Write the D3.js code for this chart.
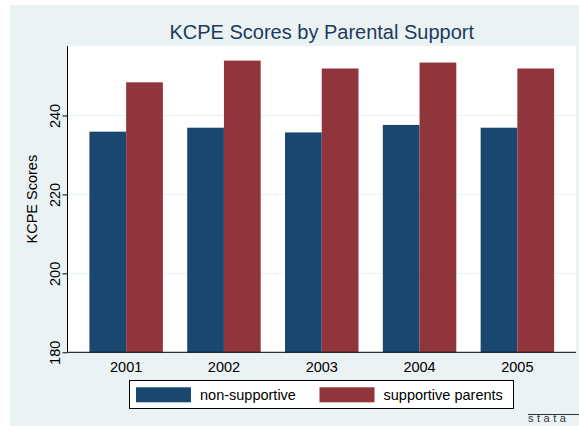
<!DOCTYPE html>
<html>
<head>
<meta charset="utf-8">
<script src="https://cdn.jsdelivr.net/npm/d3@7"></script>
<style>
  body { margin: 0; background: #fff; }
  text { font-family: "Liberation Sans", Arial, Helvetica, sans-serif; }
</style>
</head>
<body>
<div id="chart"></div>
<script>
const years = ["2001", "2002", "2003", "2004", "2005"];
const nonSupportive = [235.9, 236.9, 235.7, 237.6, 236.9];
const supportive = [248.4, 253.9, 251.9, 253.4, 251.9];
const yTicks = [180, 200, 220, 240];
const seriesNames = ["non-supportive", "supportive parents"];
const colors = ["#1a476f", "#90353b"];

const W = 579, H = 426;
const plot = {left: 67.5, right: 576, top: 46, bottom: 352.3};

const svg = d3.select("#chart")
    .append("svg")
    .attr("width", W)
    .attr("height", H);

// outer background
svg.append("rect")
    .attr("x", 10).attr("y", 5)
    .attr("width", W - 10).attr("height", H - 5)
    .attr("fill", "#eaf2f3");

// plot region
svg.append("rect")
    .attr("x", plot.left).attr("y", plot.top)
    .attr("width", plot.right - plot.left).attr("height", plot.bottom - plot.top)
    .attr("fill", "#fff");

const x = d3.scaleBand()
    .domain(years)
    .range([plot.left, plot.right])
    .paddingInner(0.249)
    .paddingOuter(0.224);

const xSub = d3.scaleBand()
    .domain([0, 1])
    .range([0, x.bandwidth()]);

const y = d3.scaleLinear()
    .domain([180, 257.6])
    .range([plot.bottom, plot.top]);

// gridlines
svg.append("g")
    .selectAll("line")
    .data(yTicks.slice(1))
    .enter()
    .append("line")
    .attr("x1", plot.left).attr("x2", plot.right)
    .attr("y1", d => y(d)).attr("y2", d => y(d))
    .attr("stroke", "#eaf2f3")
    .attr("stroke-width", 1);

// bars
const rows = years.map((yr, i) => ({year: yr, vals: [nonSupportive[i], supportive[i]]}));
const groups = svg.append("g")
    .selectAll("g")
    .data(rows)
    .enter()
    .append("g")
    .attr("transform", d => `translate(${x(d.year)},0)`);

groups.selectAll("rect")
    .data(d => d.vals.map((v, k) => ({v, k})))
    .enter()
    .append("rect")
    .attr("x", d => xSub(d.k))
    .attr("width", xSub.bandwidth())
    .attr("y", d => y(d.v))
    .attr("height", d => y(180) - y(d.v))
    .attr("fill", d => colors[d.k]);

// y axis
const yAxis = svg.append("g")
    .attr("transform", `translate(${plot.left},0)`)
    .call(d3.axisLeft(y).tickValues(yTicks).tickSize(5).tickSizeOuter(0));
yAxis.select(".domain")
    .attr("d", `M0,${plot.top}V${plot.bottom}`)
    .attr("stroke", "#000");
yAxis.selectAll(".tick line").attr("stroke", "#000");
yAxis.selectAll(".tick text")
    .attr("transform", "rotate(-90)")
    .attr("x", 0).attr("y", -8).attr("dy", 0)
    .attr("text-anchor", "middle")
    .style("font-size", "14.5px")
    .attr("fill", "#000");

// x axis
const xAxis = svg.append("g")
    .attr("transform", `translate(0,${plot.bottom})`)
    .call(d3.axisBottom(x).tickSize(0).tickSizeOuter(0));
xAxis.select(".domain")
    .attr("d", `M${plot.left},0H${plot.right}`)
    .attr("stroke", "#000");
xAxis.selectAll(".tick text")
    .attr("y", 19.5).attr("dy", 0)
    .style("font-size", "14.5px")
    .attr("fill", "#000");

// y axis title
svg.append("text")
    .attr("transform", `translate(37,${(plot.top + plot.bottom) / 2}) rotate(-90)`)
    .attr("text-anchor", "middle")
    .style("font-size", "14.5px")
    .attr("fill", "#000")
    .text("KCPE Scores");

// title
svg.append("text")
    .attr("x", (plot.left + plot.right) / 2)
    .attr("y", 39)
    .attr("text-anchor", "middle")
    .style("font-size", "20px")
    .attr("fill", "#1e3a5c")
    .text("KCPE Scores by Parental Support");

// legend
const legend = svg.append("g");
legend.append("rect")
    .attr("x", 129.5).attr("y", 380.5)
    .attr("width", 384).attr("height", 28)
    .attr("fill", "#fff")
    .attr("stroke", "#000")
    .attr("stroke-width", 1);
const legendX = [136, 319.5];
seriesNames.forEach((name, k) => {
    legend.append("rect")
        .attr("x", legendX[k]).attr("y", 387.3)
        .attr("width", 55).attr("height", 15)
        .attr("fill", colors[k]);
    legend.append("text")
        .attr("x", legendX[k] + 64).attr("y", 400)
        .style("font-size", "14.5px")
        .attr("fill", "#000")
        .text(name);
});

// stata mark
svg.append("line")
    .attr("x1", 528).attr("x2", 579)
    .attr("y1", 414.5).attr("y2", 414.5)
    .attr("stroke", "#333").attr("stroke-width", 1);
svg.append("text")
    .attr("x", 528).attr("y", 422)
    .style("font-size", "11px")
    .style("letter-spacing", "3.5px")
    .attr("fill", "#333")
    .text("stata");
</script>
</body>
</html>
